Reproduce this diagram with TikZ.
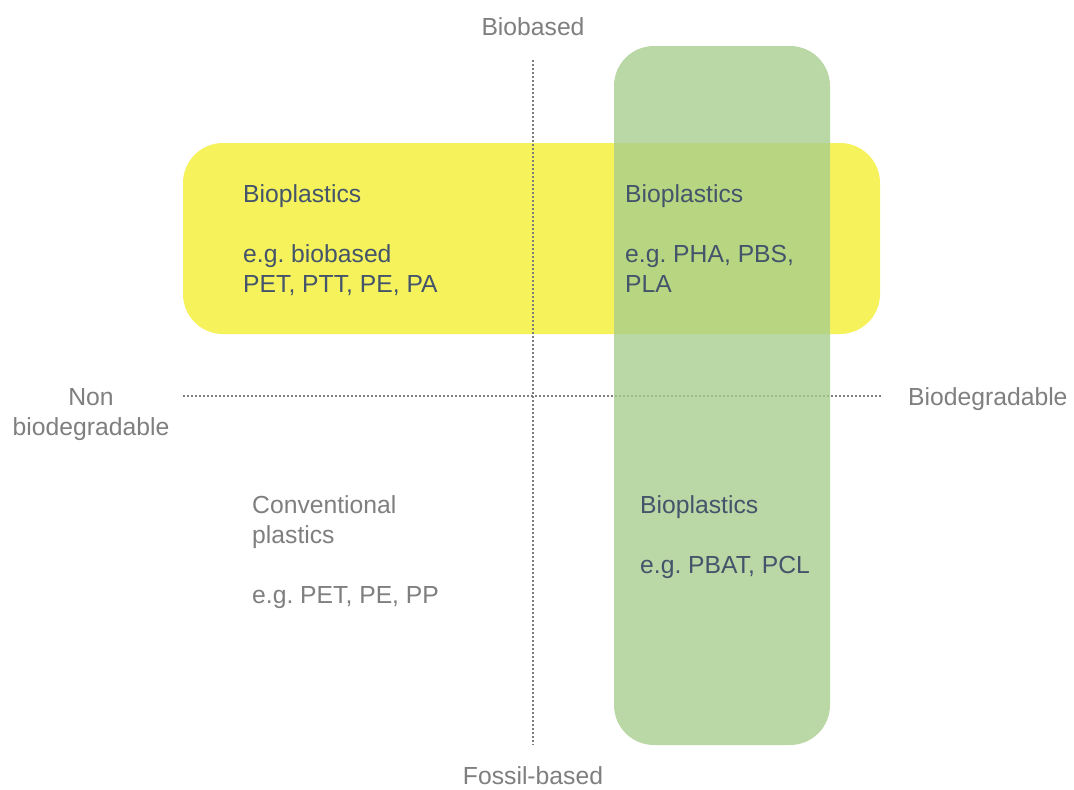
\documentclass[tikz,border=0pt]{standalone}
\usepackage{fontspec}
\setmainfont{Liberation Sans}
\frenchspacing
\definecolor{yelfill}{RGB}{245,242,92}
\definecolor{grnfill}{RGB}{167,205,141}
\definecolor{darktxt}{RGB}{68,84,106}
\definecolor{graytxt}{RGB}{127,127,127}
\definecolor{dotcol}{RGB}{125,125,125}
\begin{document}
\begin{tikzpicture}[x=1pt,y=-1pt,
  yelbox/.style={fill=yelfill,draw=none,rounded corners=40pt,inner sep=0pt},
  grnbox/.style={fill=grnfill,fill opacity=0.78,draw=none,rounded corners=40pt,inner sep=0pt},
  axisline/.style={draw=dotcol,line width=1.8pt,dash pattern=on 1.8pt off 2.2pt},
  dtxt/.style={font=\fontsize{24.7}{30}\selectfont,text=darktxt,anchor=base west,inner sep=0pt},
  gtxt/.style={font=\fontsize{24.7}{30}\selectfont,text=graytxt,inner sep=0pt}
]
\useasboundingbox (0,0) rectangle (1074,790);
\fill[white] (0,0) rectangle (1074,790);
% yellow band
\node[yelbox,minimum width=697pt,minimum height=191pt] (yel) at (531.5,238.5) {};
% axes
\coordinate (vtop) at (533,60);
\coordinate (vbot) at (533,745);
\coordinate (hl) at (183,396);
\coordinate (hr) at (881,396);
\draw[axisline] (vtop) -- (vbot);
\draw[axisline] (hl) -- (hr);
% green band
\node[grnbox,minimum width=216pt,minimum height=699pt] (grn) at (722,395.5) {};
% axis labels
\node[gtxt,anchor=base] (biobased) at (533,35) {Biobased};
\node[gtxt,anchor=base] (fossil) at (533,784) {Fossil-based};
\node[gtxt,anchor=base] (non1) at (91,405) {Non};
\node[gtxt,anchor=base] (non2) at (91,435) {biodegradable};
\node[gtxt,anchor=base west] (biodeg) at (908,405) {Biodegradable};
% top-left
\node[dtxt] (tl1) at (243,202) {Bioplastics};
\node[dtxt] (tl2) at (243,262) {e.g. biobased};
\node[dtxt] (tl3) at (243,292) {PET, PTT, PE, PA};
% top-right
\node[dtxt] (tr1) at (625,202) {Bioplastics};
\node[dtxt] (tr2) at (625,262) {e.g. PHA, PBS,};
\node[dtxt] (tr3) at (625,292) {PLA};
% bottom-left
\node[gtxt,anchor=base west] (bl1) at (252,513) {Conventional};
\node[gtxt,anchor=base west] (bl2) at (252,543) {plastics};
\node[gtxt,anchor=base west] (bl3) at (252,603) {e.g. PET, PE, PP};
% bottom-right
\node[dtxt] (br1) at (640,513) {Bioplastics};
\node[dtxt] (br2) at (640,573) {e.g. PBAT, PCL};
\end{tikzpicture}
\end{document}
